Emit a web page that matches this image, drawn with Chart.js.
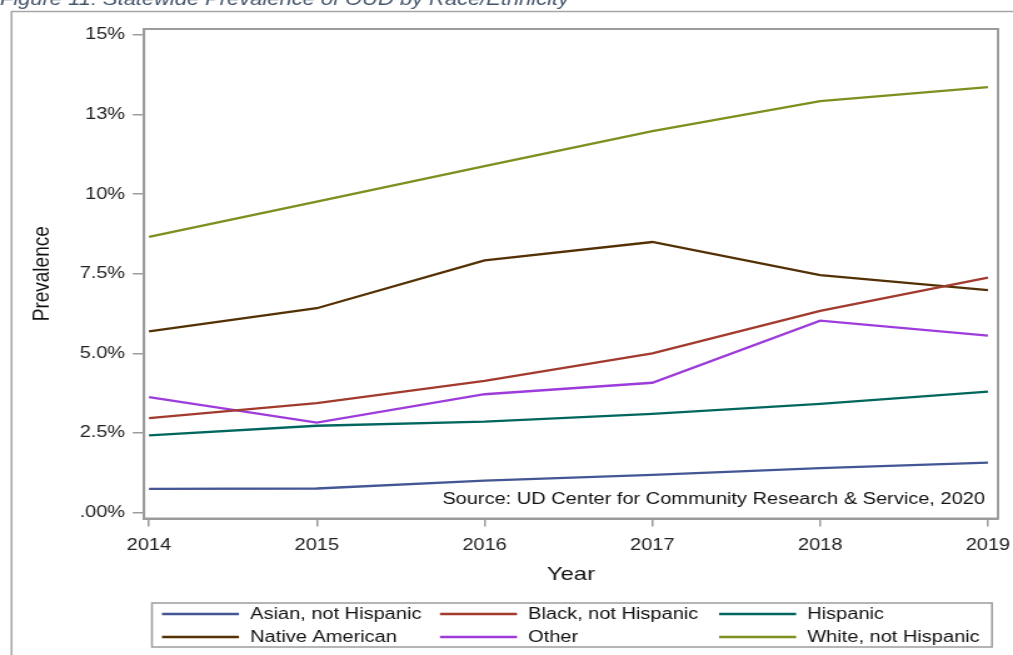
<!DOCTYPE html>
<html>
<head>
<meta charset="utf-8">
<title>Statewide Prevalence of OUD by Race/Ethnicity</title>
<script src="https://cdn.jsdelivr.net/npm/chart.js@4.4.1/dist/chart.umd.min.js"></script>
<style>
  html, body { margin: 0; padding: 0; background: #fff; overflow: hidden; }
  #oud-chart { display: block; }
</style>
</head>
<body>
<!-- the source picture is stretched sideways, so the canvas is drawn narrower and widened by css -->
<canvas id="oud-chart" width="810" height="655" style="width:1013px;height:655px;"></canvas>
<script>
const years = [2014, 2015, 2016, 2017, 2018, 2019];
const seriesNames = ['Asian, not Hispanic', 'Black, not Hispanic', 'Hispanic', 'Native American', 'Other', 'White, not Hispanic'];
const asian = [0.75, 0.76, 1.01, 1.19, 1.40, 1.57];
const black = [2.97, 3.44, 4.14, 5.00, 6.34, 7.38];
const hispanic = [2.43, 2.73, 2.86, 3.10, 3.42, 3.80];
const nativeAmerican = [5.69, 6.42, 7.92, 8.50, 7.46, 6.99];
const other = [3.63, 2.83, 3.72, 4.08, 6.03, 5.56];
const white = [8.66, 9.77, 10.88, 11.98, 12.92, 13.36];
const seriesColors = ['#445694', '#A23A2E', '#01665E', '#543005', '#9D3CDB', '#7F8E1F'];
const yTickValues = [0, 2.5, 5, 7.5, 10, 12.5, 15];
const yTickLabels = ['.00%', '2.5%', '5.0%', '7.5%', '10%', '13%', '15%'];

const figureTitle = 'Figure 11: Statewide Prevalence of OUD by Race/Ethnicity';
const sourceNote = 'Source: UD Center for Community Research & Service, 2020';
const fontFamily = '"Liberation Sans", Arial, sans-serif';
const frameColor = '#9c9c9c';

const allSeries = [asian, black, hispanic, nativeAmerican, other, white];

const datasets = allSeries.map((vals, i) => ({
    label: seriesNames[i],
    data: years.map((yr, j) => ({ x: yr, y: vals[j] })),
    borderColor: seriesColors[i],
    backgroundColor: seriesColors[i],
    borderWidth: 2.3,
    pointRadius: 0,
    tension: 0,
    fill: false
}));

// frame round the plot, page lines, title, source note and the boxed legend
const extras = {
    id: 'extras',
    afterDraw(chart) {
        const { ctx, chartArea: a } = chart;
        ctx.save();

        // plot frame
        ctx.strokeStyle = frameColor;
        ctx.lineWidth = 2;
        ctx.strokeRect(a.left, a.top, a.right - a.left, a.bottom - a.top);

        // page border lines
        ctx.strokeStyle = '#a6a6a6';
        ctx.lineWidth = 1.5;
        ctx.beginPath();
        ctx.moveTo(9.2, 655);
        ctx.lineTo(9.2, 11.5);
        ctx.lineTo(810, 11.5);
        ctx.stroke();

        // figure caption, cut off at the top like the source
        ctx.fillStyle = '#44546A';
        ctx.font = 'italic 17.5px ' + fontFamily;
        ctx.textAlign = 'left';
        ctx.textBaseline = 'alphabetic';
        ctx.fillText(figureTitle, 0, 5);

        // source note inside the plot
        ctx.fillStyle = '#111';
        ctx.font = '16px ' + fontFamily;
        ctx.textAlign = 'right';
        ctx.textBaseline = 'middle';
        ctx.fillText(sourceNote, 787.6, 500);

        // legend
        ctx.strokeStyle = frameColor;
        ctx.lineWidth = 1.5;
        ctx.strokeRect(121.5, 603, 671.7, 44);
        const colX = [129.5, 351.8, 575];
        const rowY = [614, 637];
        ctx.font = '16px ' + fontFamily;
        ctx.textAlign = 'left';
        chart.data.datasets.forEach((ds, i) => {
            const x = colX[i % 3];
            const y = rowY[Math.floor(i / 3)];
            ctx.strokeStyle = ds.borderColor;
            ctx.lineWidth = 2.3;
            ctx.beginPath();
            ctx.moveTo(x, y);
            ctx.lineTo(x + 61.6, y);
            ctx.stroke();
            ctx.fillStyle = '#111';
            ctx.fillText(ds.label, x + 70.5, y + 1);
        });

        ctx.restore();
    }
};

new Chart(document.getElementById('oud-chart'), {
    type: 'line',
    data: { datasets },
    options: {
        responsive: false,
        animation: false,
        devicePixelRatio: 1,
        layout: { padding: { left: 18.2, right: 12, top: 29, bottom: 64.6 } },
        plugins: {
            legend: { display: false },
            tooltip: { enabled: false }
        },
        scales: {
            x: {
                type: 'linear',
                min: 2013.970,
                max: 2019.060,
                afterBuildTicks: scale => { scale.ticks = years.map(v => ({ value: v })); },
                afterFit: scale => {
                    scale.height = 71.9;
                    scale.paddingLeft = 0;
                    scale.paddingRight = 0;
                },
                grid: { drawOnChartArea: false, drawTicks: true, tickLength: 8, color: frameColor, lineWidth: 1.5 },
                border: { display: true, color: frameColor, width: 2 },
                ticks: {
                    padding: 9,
                    color: '#222',
                    font: { family: fontFamily, size: 16 },
                    maxRotation: 0,
                    callback: v => String(v)
                },
                title: {
                    display: true,
                    text: 'Year',
                    color: '#111',
                    font: { family: fontFamily, size: 19 },
                    padding: { top: 4, bottom: 4 }
                }
            },
            y: {
                min: -0.182,
                max: 15.188,
                afterBuildTicks: scale => { scale.ticks = yTickValues.map(v => ({ value: v })); },
                afterFit: scale => {
                    scale.width = 96.9;
                    scale.paddingTop = 0;
                    scale.paddingBottom = 0;
                },
                grid: { drawOnChartArea: false, drawTicks: true, tickLength: 9, color: frameColor, lineWidth: 1.5 },
                border: { display: true, color: frameColor, width: 2 },
                ticks: {
                    padding: 6,
                    color: '#222',
                    font: { family: fontFamily, size: 16 },
                    callback: (v, i) => yTickLabels[i]
                },
                title: {
                    display: true,
                    text: 'Prevalence',
                    color: '#111',
                    font: { family: fontFamily, size: 19 },
                    padding: { top: 4, bottom: 4 }
                }
            }
        }
    },
    plugins: [extras]
});
</script>
</body>
</html>
